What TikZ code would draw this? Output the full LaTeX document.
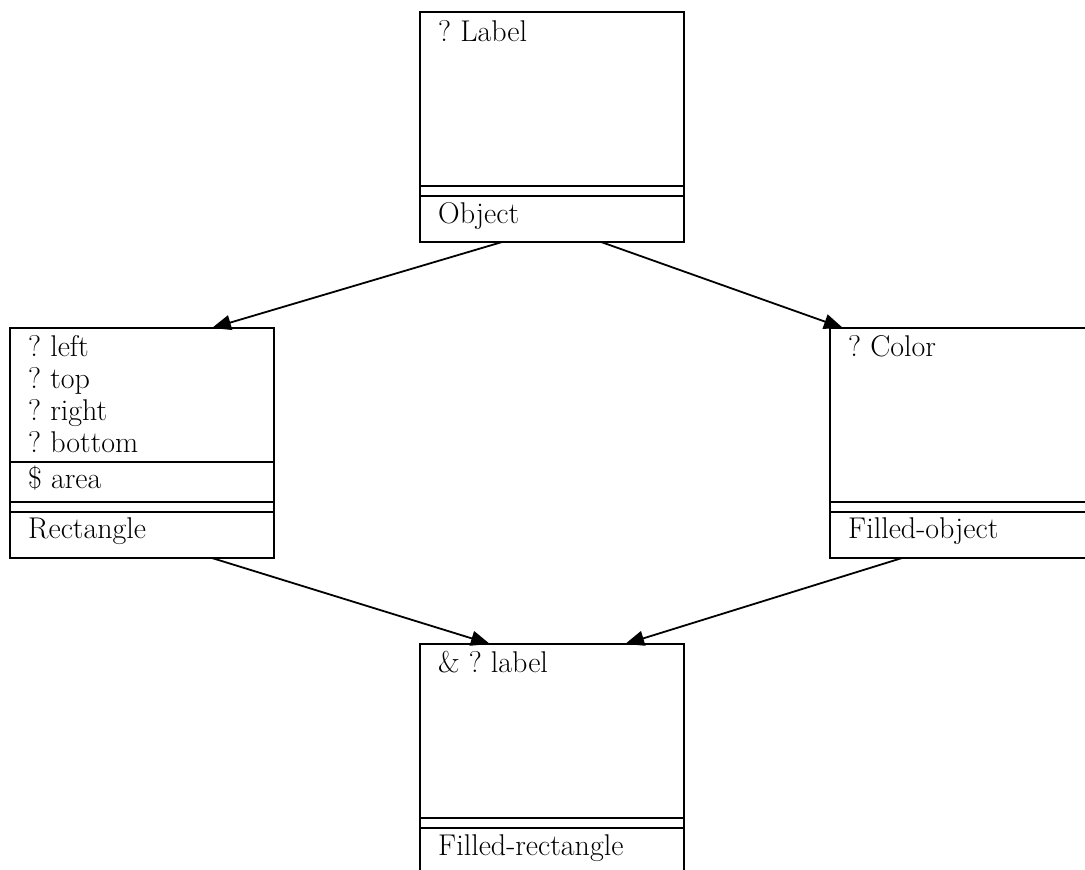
\documentclass[tikz,border=0pt]{standalone}
\usetikzlibrary{arrows.meta,calc}

\tikzset{
  cls/.style={draw, line width=1.5pt, minimum width=264pt, minimum height=230pt,
              anchor=north west, inner sep=0pt, outer sep=0pt},
  sep/.style={line width=1.5pt},
  txt/.style={anchor=base west, inner sep=0pt, font=\fontsize{30}{32}\selectfont\frenchspacing},
  inh/.style={-{Triangle[length=19pt,width=15pt]}, line width=1.8pt}
}

\begin{document}
\begin{tikzpicture}[x=1pt, y=-1pt]
  \clip (0,0) rectangle (1085,870);

  % class boxes
  \node[cls] (object) at (420,12)  {};
  \node[cls] (rect)   at (10,328)  {};
  \node[cls] (filled) at (830,328) {};
  \node[cls] (frect)  at (420,644) {};

  % compartment separators
  \foreach \b in {object, rect, filled, frect} {
    \draw[sep] ($(\b.north west)+(0,174)$) -- ($(\b.north east)+(0,174)$);
    \draw[sep] ($(\b.north west)+(0,184)$) -- ($(\b.north east)+(0,184)$);
  }
  \draw[sep] ($(rect.north west)+(0,134)$) -- ($(rect.north east)+(0,134)$);

  % Object
  \node[txt] (objattr) at ($(object.north west)+(18,29)$)  {? Label};
  \node[txt] (objname) at ($(object.north west)+(18,211)$) {Object};

  % Rectangle
  \node[txt] (rleft)   at ($(rect.north west)+(18,28)$)  {? left};
  \node[txt] (rtop)    at ($(rect.north west)+(18,60)$)  {? top};
  \node[txt] (rright)  at ($(rect.north west)+(18,92)$)  {? right};
  \node[txt] (rbottom) at ($(rect.north west)+(18,124)$) {? bottom};
  \node[txt] (rarea)   at ($(rect.north west)+(18,160)$) {\$ area};
  \node[txt] (rname)   at ($(rect.north west)+(18,210)$) {Rectangle};

  % Filled-object
  \node[txt] (fcolor)  at ($(filled.north west)+(18,28)$)  {? Color};
  \node[txt] (fname)   at ($(filled.north west)+(18,210)$) {Filled-object};

  % Filled-rectangle
  \node[txt] (frlabel) at ($(frect.north west)+(18,28)$)  {\& ? label};
  \node[txt] (frname)  at ($(frect.north west)+(18,211)$) {Filled-rectangle};

  % inheritance arrows
  \draw[inh] ($(object.south west)!0.311!(object.south east)$) -- ($(rect.north west)!0.765!(rect.north east)$);
  \draw[inh] ($(object.south west)!0.686!(object.south east)$) -- ($(filled.north west)!0.049!(filled.north east)$);
  \draw[inh] ($(rect.south west)!0.765!(rect.south east)$) -- ($(frect.north west)!0.265!(frect.north east)$);
  \draw[inh] ($(filled.south west)!0.273!(filled.south east)$) -- ($(frect.north west)!0.777!(frect.north east)$);
\end{tikzpicture}
\end{document}
